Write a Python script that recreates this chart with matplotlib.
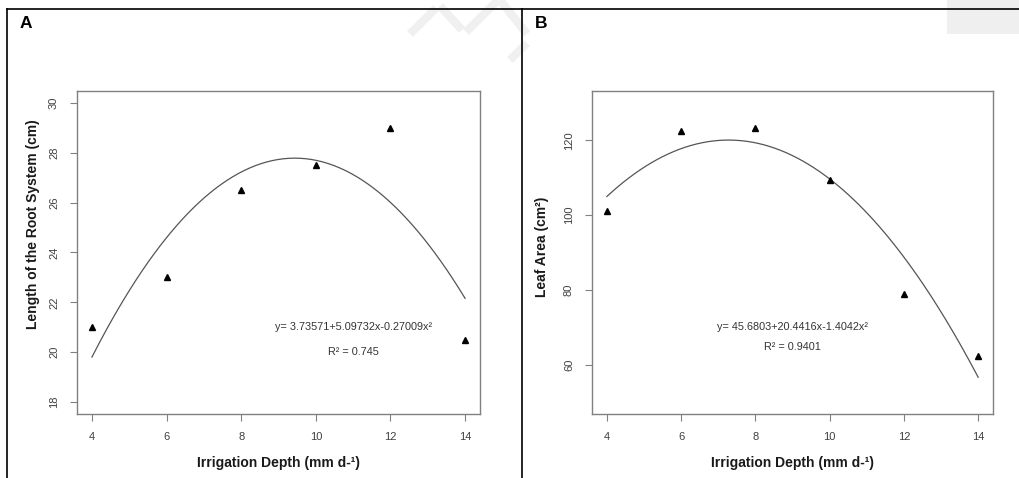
import numpy as np
import matplotlib
matplotlib.use("Agg")
import matplotlib.pyplot as plt
from matplotlib.patches import Rectangle

plt.rcParams['font.family'] = ['Liberation Sans', 'DejaVu Sans']

# Irrigation depth treatments (mm/day)
irrigation = [4, 6, 8, 10, 12, 14]

# Panel A: root system length (cm)
root_length = [21.0, 23.0, 26.5, 27.5, 29.0, 20.5]
root_coef = [3.73571, 5.09732, -0.27009]
root_eq = "y= 3.73571+5.09732x-0.27009x\u00b2"
root_r2 = "R\u00b2 = 0.745"

# Panel B: leaf area (cm2)
leaf_area = [101.2, 122.6, 123.2, 109.5, 79.0, 62.2]
leaf_coef = [45.6803, 20.4416, -1.4042]
leaf_eq = "y= 45.6803+20.4416x-1.4042x\u00b2"
leaf_r2 = "R\u00b2 = 0.9401"

x_ticks = [4, 6, 8, 10, 12, 14]
root_yticks = [18, 20, 22, 24, 26, 28, 30]
leaf_yticks = [60, 80, 100, 120]

W, H = 1020, 478
fig = plt.figure(figsize=(W / 100, H / 100), dpi=100)
fig.patch.set_facecolor("white")

# background layer in pixel coordinates (frame lines, faint marks)
bg = fig.add_axes([0, 0, 1, 1], zorder=0)
bg.set_xlim(0, W)
bg.set_ylim(H, 0)
bg.axis("off")
bg.add_patch(Rectangle((947, 0), 73, 34, facecolor="#efefef", edgecolor="none"))
for (x0, y0, x1, y1) in [(410, 34, 436, 8), (440, 6, 462, 30), (466, 32, 498, 0),
                          (500, 0, 527, 34), (510, 60, 527, 43)]:
    bg.plot([x0, x1], [y0, y1], color="#f0f0f0", lw=6, solid_capstyle="butt")
bg.plot([7, W], [9, 9], color="black", lw=1.2)
bg.plot([7, 7], [9, H], color="black", lw=1.2)
bg.plot([522.5, 522.5], [9, H], color="black", lw=1.2)

spine_c = "#808080"
tick_c = "#404040"


def style_axes(ax, yticks, ylim):
    ax.set_xlim(3.6, 14.4)
    ax.set_ylim(*ylim)
    ax.set_xticks(x_ticks)
    ax.set_yticks(yticks)
    for s in ax.spines.values():
        s.set_color(spine_c)
        s.set_linewidth(1.0)
    ax.tick_params(axis="both", direction="out", length=5, width=0.8,
                   color=spine_c, labelcolor=tick_c, labelsize=8, pad=8)
    for lab in ax.get_yticklabels():
        lab.set_rotation(90)
        lab.set_va("center")


xs = np.linspace(4, 14, 200)

# Panel A
axA = fig.add_axes([77 / W, 1 - 414 / H, 403 / W, 323 / H], zorder=2)
style_axes(axA, root_yticks, (17.52, 30.48))
axA.plot(xs, root_coef[0] + root_coef[1] * xs + root_coef[2] * xs ** 2,
         color="#555555", lw=0.9)
axA.plot(irrigation, root_length, linestyle="none", marker="^", color="black",
         markersize=5)
axA.text(11, 21.0, root_eq, ha="center", va="center", fontsize=7.8, color="#333333")
axA.text(11, 20.0, root_r2, ha="center", va="center", fontsize=7.8, color="#333333")

# Panel B
axB = fig.add_axes([592 / W, 1 - 414 / H, 401 / W, 323 / H], zorder=2)
style_axes(axB, leaf_yticks, (46.8, 133.2))
axB.plot(xs, leaf_coef[0] + leaf_coef[1] * xs + leaf_coef[2] * xs ** 2,
         color="#555555", lw=0.9)
axB.plot(irrigation, leaf_area, linestyle="none", marker="^", color="black",
         markersize=5)
axB.text(9, 70.2, leaf_eq, ha="center", va="center", fontsize=7.8, color="#333333")
axB.text(9, 64.8, leaf_r2, ha="center", va="center", fontsize=7.8, color="#333333")

# axis titles and panel letters
title_kw = dict(fontsize=10, fontweight="bold", color="#1a1a1a")
fig.text(278.5 / W, 1 - 463 / H, "Irrigation Depth (mm d-\u00b9)", ha="center",
         va="center", **title_kw)
fig.text(792.5 / W, 1 - 463 / H, "Irrigation Depth (mm d-\u00b9)", ha="center",
         va="center", **title_kw)
fig.text(33 / W, 1 - 224 / H, "Length of the Root System (cm)", ha="center",
         va="center", rotation=90, **title_kw)
fig.text(542 / W, 1 - 247 / H, "Leaf Area (cm\u00b2)", ha="center",
         va="center", rotation=90, **title_kw)
fig.text(20 / W, 1 - 23 / H, "A", ha="left", va="center", fontsize=12.5,
         fontweight="bold", color="black")
fig.text(535 / W, 1 - 23 / H, "B", ha="left", va="center", fontsize=12.5,
         fontweight="bold", color="black")

fig.savefig("out.png", dpi=100, facecolor="white")
